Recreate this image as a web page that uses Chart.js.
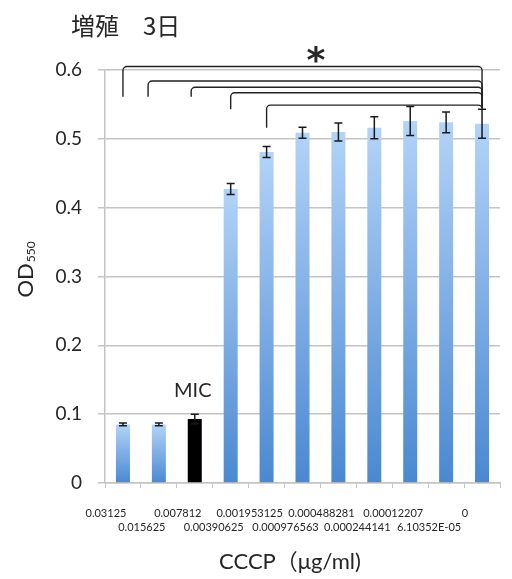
<!DOCTYPE html>
<html><head><meta charset="utf-8">
<script src="https://cdn.jsdelivr.net/npm/chart.js@4"></script>
<style>html,body{margin:0;padding:0;background:#fff}#wrap{width:512px;height:579px;position:relative}</style>
</head><body><div id="wrap"><canvas id="c" width="512" height="579"></canvas></div>
<script>
const categories = ['0.03125','0.015625','0.007812','0.00390625','0.001953125','0.000976563','0.000488281','0.000244141','0.00012207','6.10352E-05','0'];
const odValues = [0.085,0.085,0.093,0.427,0.481,0.509,0.510,0.516,0.526,0.524,0.522];
const odErrors = [0.002,0.002,0.007,0.008,0.008,0.008,0.013,0.016,0.021,0.015,0.021];
const micIndex = 2;
const yTicks = [0,0.1,0.2,0.3,0.4,0.5,0.6];
const bracketFrom = [0,0.7,1.9,3,4];
const bracketTo = [10,10,10,10,10];
const bracketLevel = [0.605,0.584,0.575,0.567,0.549];
const bracketLeftEnd = [0.561,0.561,0.561,0.543,0.516];
const bracketRightEnd = [0.545,0.545,0.545,0.545,0.545];

const LATIN = 'Lato, "Noto Sans CJK JP", sans-serif';
const CJK = '"Noto Sans CJK JP", Lato, sans-serif';
const TEXT = '#262626';
const GRID = '#c4c4c4';

function barFill(ctx){
  if (ctx.dataIndex === micIndex) return '#000000';
  const ch = ctx.chart; const y = ch.scales && ch.scales.y;
  if (!y || !ch.chartArea) return '#7fb0e8';
  const top = y.getPixelForValue(odValues[ctx.dataIndex]);
  const bot = y.getPixelForValue(0);
  if (!isFinite(top) || !isFinite(bot) || top === bot) return '#7fb0e8';
  const g = ch.ctx.createLinearGradient(0, top, 0, bot);
  g.addColorStop(0, '#b3d3f8');
  g.addColorStop(1, '#4a88d1');
  return g;
}

const errorBars = {
  id: 'errorBars',
  afterDatasetsDraw(chart){
    const {ctx, scales:{x, y}} = chart;
    ctx.save();
    ctx.strokeStyle = '#1a1a1a';
    ctx.lineWidth = 1.5;
    odValues.forEach((v, i) => {
      const e = odErrors[i];
      const px = x.getPixelForValue(i);
      const t = y.getPixelForValue(v + e), b = y.getPixelForValue(v - e);
      ctx.beginPath();
      ctx.moveTo(px, t); ctx.lineTo(px, b);
      ctx.moveTo(px - 4, t); ctx.lineTo(px + 4, t);
      ctx.moveTo(px - 4, b); ctx.lineTo(px + 4, b);
      ctx.stroke();
    });
    ctx.restore();
  }
};

const brackets = {
  id: 'brackets',
  afterDraw(chart){
    const {ctx, scales:{x, y}} = chart;
    ctx.save();
    ctx.strokeStyle = '#222';
    ctx.lineWidth = 1.4;
    bracketFrom.forEach((f, k) => {
      const x1 = x.getPixelForValue(f), x2 = x.getPixelForValue(bracketTo[k]);
      const yl = y.getPixelForValue(bracketLevel[k]);
      const y1 = y.getPixelForValue(bracketLeftEnd[k]);
      const y2 = y.getPixelForValue(bracketRightEnd[k]);
      ctx.beginPath();
      ctx.moveTo(x1, y1);
      ctx.arcTo(x1, yl, x1 + 5, yl, 4);
      ctx.lineTo(x2 - 4, yl);
      ctx.arcTo(x2, yl, x2, yl + 5, 4);
      ctx.lineTo(x2, y2);
      ctx.stroke();
    });
    ctx.restore();
  }
};

const texts = {
  id: 'texts',
  afterDraw(chart){
    const {ctx, scales:{x}} = chart;
    ctx.save();
    ctx.fillStyle = TEXT;
    // title
    ctx.font = '24px ' + CJK;
    ctx.textAlign = 'left'; ctx.textBaseline = 'middle';
    ctx.fillText('増殖　3日', 71, 26);
    // asterisk
    ctx.font = 'bold 36px "DejaVu Sans", sans-serif';
    ctx.textAlign = 'center'; ctx.textBaseline = 'alphabetic';
    const m = ctx.measureText('*');
    const cy = 54;
    ctx.fillText('*', 316, cy + (m.actualBoundingBoxAscent - m.actualBoundingBoxDescent) / 2);
    // MIC
    ctx.font = '20px ' + LATIN;
    ctx.textBaseline = 'middle';
    ctx.fillText('MIC', x.getPixelForValue(micIndex) - 2, 391);
    // x title
    ctx.font = '22px ' + LATIN;
    ctx.fillText('CCCP（μg/ml)', 290, 562);
    // y title
    ctx.translate(33, 270);
    ctx.rotate(-Math.PI / 2);
    ctx.textBaseline = 'alphabetic';
    ctx.font = '22px ' + LATIN;
    const w1 = ctx.measureText('OD').width;
    ctx.font = '12px ' + LATIN;
    const w2 = ctx.measureText('550').width;
    const start = -(w1 + w2) / 2;
    ctx.textAlign = 'left';
    ctx.font = '22px ' + LATIN;
    ctx.fillText('OD', start, 0);
    ctx.font = '12px ' + LATIN;
    ctx.fillText('550', start + w1 + 1, 2);
    ctx.restore();
  }
};

new Chart(document.getElementById('c'), {
  type: 'bar',
  data: {
    labels: categories,
    datasets: [{
      data: odValues,
      backgroundColor: barFill,
      borderWidth: 0,
      categoryPercentage: 1,
      barPercentage: 0.39
    }]
  },
  options: {
    responsive: false,
    animation: false,
    devicePixelRatio: 1,
    layout: { padding: { top: 70, right: 12, left: 0, bottom: 0 } },
    plugins: { legend: { display: false }, tooltip: { enabled: false }, title: { display: false } },
    scales: {
      x: {
        offset: true,
        grid: { display: true, offset: true, drawOnChartArea: false, drawTicks: true, tickLength: 5, color: GRID, lineWidth: 1 },
        border: { display: true, color: GRID, width: 1.5 },
        afterFit(s){ s.height = 96; },
        ticks: {
          autoSkip: false, maxRotation: 0, minRotation: 0,
          padding: 19, labelOffset: -17,
          color: TEXT,
          font: { family: LATIN, size: 11, lineHeight: 1.23 },
          callback: (v, i) => i % 2 === 0 ? [categories[i], ''] : ['', categories[i]]
        }
      },
      y: {
        min: 0, max: 0.6,
        afterBuildTicks(s){ s.ticks = yTicks.map(v => ({ value: v })); },
        afterFit(s){ s.width = 105; },
        grid: { color: GRID, lineWidth: 1.5, drawTicks: true, tickLength: 7 },
        border: { display: true, color: GRID, width: 1.5 },
        ticks: {
          padding: 16, color: TEXT,
          font: { family: LATIN, size: 19 },
          callback: v => v === 0 ? '0' : Number(v).toFixed(1)
        }
      }
    }
  },
  plugins: [errorBars, brackets, texts]
});
</script>
</body></html>
